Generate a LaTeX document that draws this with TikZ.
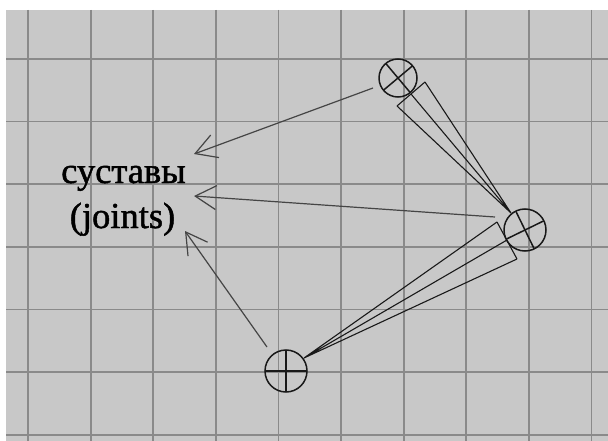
\documentclass[tikz,border=0pt]{standalone}
\usepackage{fontspec}
\setmainfont{Liberation Serif}
\newfontfamily\captionface[FakeBold=1.3]{Liberation Serif}
\usetikzlibrary{arrows.meta,calc}
\definecolor{paper}{gray}{0.785}
\definecolor{gridline}{gray}{0.54}
\definecolor{ink}{gray}{0.1}
\definecolor{pointer}{gray}{0.27}
\tikzset{
  gridrule/.style={draw=gridline, line width=1.8pt},
  jointring/.style={draw=ink, line width=1.5pt},
  bonewire/.style={draw=ink, line width=1.1pt, line join=round},
  pointerline/.style={draw=pointer, line width=1.2pt,
    -{Straight Barb[length=21pt, width=24pt, line width=1.2pt]}},
  caption/.style={font=\captionface\fontsize{36.5}{45}\selectfont, text=black, inner sep=0pt, anchor=base}
}
\begin{document}
\begin{tikzpicture}[x=1pt, y=-1pt]
  % page and grey grid
  \useasboundingbox (0,0) rectangle (608,441);
  \fill[white] (0,0) rectangle (608,441);
  \fill[paper] (6,10) rectangle (608,441);
  \foreach \i in {0,...,9}
    \draw[gridrule] ({28+62.6*\i},10) -- ({28+62.6*\i},441);
  \foreach \j in {0,...,6}
    \draw[gridrule] (6,{59+62.6*\j}) -- (608,{59+62.6*\j});

  % joint centres
  \coordinate (j1) at (398,78);
  \coordinate (j2) at (525,230);
  \coordinate (j3) at (286,371);

  % bone from the upper joint to the right joint
  \coordinate (b1a) at (397,106);
  \coordinate (b1m) at (411,94);
  \coordinate (b1b) at (425,82);
  \coordinate (b1tip) at (511,213);
  \draw[bonewire] (b1a) -- (b1b);
  \draw[bonewire] (b1a) -- (b1tip) (b1m) -- (b1tip) (b1b) -- (b1tip);

  % bone from the lower joint to the right joint
  \coordinate (b2a) at (497,222);
  \coordinate (b2m) at (507,240);
  \coordinate (b2b) at (517,259);
  \coordinate (b2tip) at (304,358);
  \draw[bonewire] (b2a) -- (b2b);
  \draw[bonewire] (b2a) -- (b2tip) (b2m) -- (b2tip) (b2b) -- (b2tip);

  % joints: circles with a cross turned along the bone
  \draw[jointring] (j1) circle[radius=19];
  \draw[jointring] ($(j1)+(50:19)$) -- ($(j1)+(230:19)$) ($(j1)+(140:19)$) -- ($(j1)+(320:19)$);
  \draw[jointring] (j2) circle[radius=21];
  \draw[jointring] ($(j2)+(-26:21)$) -- ($(j2)+(154:21)$) ($(j2)+(64:21)$) -- ($(j2)+(244:21)$);
  \draw[jointring] (j3) circle[radius=21];
  \draw[jointring] ($(j3)+(-21,0)$) -- ($(j3)+(21,0)$) ($(j3)+(0,-21)$) -- ($(j3)+(0,21)$);

  % caption
  \node[caption] (word) at (123.5,183) {суставы};
  \node[caption] (gloss) at (122.5,228) {(joints)};

  % pointers from the joints to the caption
  \coordinate (s1) at (373,88);
  \coordinate (t1) at (194,154);
  \coordinate (s2) at (495,217);
  \coordinate (t2) at (194,196);
  \coordinate (s3) at (267,347);
  \coordinate (t3) at (185,231);
  \draw[pointerline] (s1) -- (t1);
  \draw[pointerline] (s2) -- (t2);
  \draw[pointerline] (s3) -- (t3);
\end{tikzpicture}
\end{document}
